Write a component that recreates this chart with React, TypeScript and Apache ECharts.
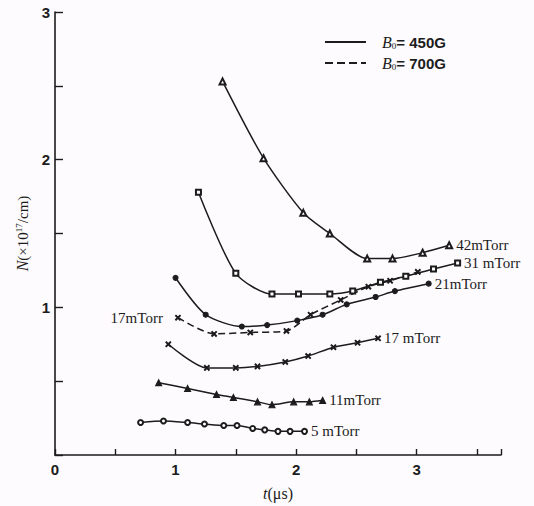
import React, { useEffect, useRef } from "react";
import * as echarts from "echarts";

// 42 mTorr (B0 = 450G)
const t42 = [1.39, 1.73, 2.06, 2.28, 2.59, 2.8, 3.05, 3.27];
const n42 = [2.53, 2.01, 1.64, 1.5, 1.33, 1.33, 1.37, 1.42];
// 31 mTorr
const t31 = [1.19, 1.5, 1.8, 2.02, 2.28, 2.47, 2.7, 2.91, 3.14, 3.34];
const n31 = [1.78, 1.23, 1.09, 1.09, 1.09, 1.11, 1.17, 1.21, 1.26, 1.3];
// 21 mTorr
const t21 = [1.0, 1.25, 1.55, 1.76, 2.01, 2.22, 2.42, 2.66, 2.82, 3.1];
const n21 = [1.2, 0.95, 0.87, 0.88, 0.91, 0.95, 1.02, 1.07, 1.11, 1.16];
// 17 mTorr (B0 = 700G, dashed)
const t17d = [1.02, 1.32, 1.62, 1.92, 2.12, 2.37, 2.6, 2.78, 3.01];
const n17d = [0.93, 0.82, 0.83, 0.84, 0.95, 1.05, 1.14, 1.18, 1.24];
// 17 mTorr (B0 = 450G)
const t17 = [0.94, 1.26, 1.5, 1.68, 1.91, 2.1, 2.31, 2.51, 2.68];
const n17 = [0.75, 0.59, 0.59, 0.6, 0.63, 0.67, 0.73, 0.76, 0.79];
// 11 mTorr
const t11 = [0.86, 1.1, 1.34, 1.48, 1.68, 1.8, 1.98, 2.11, 2.22];
const n11 = [0.49, 0.45, 0.41, 0.39, 0.36, 0.34, 0.36, 0.36, 0.37];
// 5 mTorr
const t5 = [0.71, 0.9, 1.1, 1.24, 1.4, 1.51, 1.64, 1.74, 1.85, 1.95, 2.07];
const n5 = [0.22, 0.23, 0.22, 0.21, 0.2, 0.2, 0.18, 0.17, 0.16, 0.16, 0.16];

const seriesLabels = ["42mTorr", "31 mTorr", "21mTorr", "17mTorr", "17 mTorr", "11mTorr", "5 mTorr"];

const INK = "#1c1c1c";
const SERIF = "'Liberation Serif', 'DejaVu Serif', serif";
const SANS = "'Liberation Sans', Arial, sans-serif";
const X_SYMBOL = "path://M0,1.2L1.2,0L5,3.8L8.8,0L10,1.2L6.2,5L10,8.8L8.8,10L5,6.2L1.2,10L0,8.8L3.8,5Z";

function build(ts: number[], ns: number[], label: string, labelAtStart: boolean) {
  return ts.map((t, i) => {
    const isLabel = labelAtStart ? i === 0 : i === ts.length - 1;
    const item: any = { value: [t, ns[i]] };
    if (isLabel) {
      item.label = {
        show: true,
        position: labelAtStart ? "left" : "right",
        distance: labelAtStart ? 12 : 3,
        formatter: label,
        color: INK,
        fontFamily: SERIF,
        fontSize: 15,
      };
    }
    return item;
  });
}

export default function App() {
  const ref = useRef<HTMLDivElement>(null);
  useEffect(() => {
    if (!ref.current) return;
    const chart = echarts.init(ref.current, null, { renderer: "svg" });
    const mk = (name: string, ts: number[], ns: number[], symbol: string, size: number, dashed: boolean, label: string, atStart = false) => ({
      name,
      type: "line",
      smooth: 0.25,
      data: build(ts, ns, label, atStart),
      symbol,
      symbolSize: size,
      showAllSymbol: true,
      lineStyle: { color: INK, width: 1.5, type: dashed ? [7, 4] : "solid" },
      itemStyle: { color: INK, borderColor: INK, borderWidth: 1.1 },
      emphasis: { disabled: true },
      z: 3,
    });
    chart.setOption({
      animation: false,
      backgroundColor: "#fdfbfd",
      grid: { left: 55, right: 33, top: 12, bottom: 50, containLabel: false },
      xAxis: {
        type: "value",
        min: 0,
        max: 3.7,
        interval: 0.5,
        name: "{i|t}(μs)",
        nameLocation: "middle",
        nameGap: 30,
        nameTextStyle: {
          color: INK,
          fontFamily: SERIF,
          fontSize: 16,
          rich: {
            i: { fontStyle: "italic", fontFamily: SERIF, fontSize: 16, color: INK },
          },
        },
        axisLine: { show: true, onZero: false, lineStyle: { color: INK, width: 1.6 } },
        axisTick: { show: true, inside: true, length: 6, lineStyle: { color: INK, width: 1.4 } },
        axisLabel: {
          color: INK,
          fontFamily: SANS,
          fontWeight: "bold",
          fontSize: 15,
          margin: 7,
          formatter: (v: number) => (Number.isInteger(v) ? String(v) : ""),
        },
        splitLine: { show: false },
      },
      yAxis: {
        type: "value",
        min: 0,
        max: 3,
        interval: 0.5,
        name: "{i|N}(×10{sup|17}/cm)",
        nameLocation: "middle",
        nameGap: 18,
        nameTextStyle: {
          color: INK,
          fontFamily: SERIF,
          fontSize: 15,
          rich: {
            i: { fontStyle: "italic", fontFamily: SERIF, fontSize: 16, color: INK },
            sup: { fontSize: 9, verticalAlign: "top", fontFamily: SERIF, color: INK, padding: [0, 0, 6, 0] },
          },
        },
        axisLine: { show: true, onZero: false, lineStyle: { color: INK, width: 1.6 } },
        axisTick: { show: true, inside: true, length: 8, lineStyle: { color: INK, width: 1.4 } },
        axisLabel: {
          color: INK,
          fontFamily: SANS,
          fontWeight: "bold",
          fontSize: 15,
          margin: 5,
          formatter: (v: number) => (Number.isInteger(v) && v !== 0 ? String(v) : ""),
        },
        splitLine: { show: false },
      },
      series: [
        mk("42", t42, n42, "emptyTriangle", 6, false, seriesLabels[0]),
        mk("31", t31, n31, "emptyRect", 5, false, seriesLabels[1]),
        mk("21", t21, n21, "circle", 5, false, seriesLabels[2]),
        mk("17d", t17d, n17d, X_SYMBOL, 5, true, seriesLabels[3], true),
        mk("17", t17, n17, X_SYMBOL, 5, false, seriesLabels[4]),
        mk("11", t11, n11, "triangle", 6, false, seriesLabels[5]),
        mk("5", t5, n5, "emptyCircle", 5, false, seriesLabels[6]),
      ],
      graphic: [
        { type: "line", shape: { x1: 325, y1: 42, x2: 366, y2: 42 }, style: { stroke: INK, lineWidth: 1.8 } },
        { type: "line", shape: { x1: 325, y1: 63, x2: 366, y2: 63 }, style: { stroke: INK, lineWidth: 1.8, lineDash: [8, 4] } },
        {
          type: "text",
          x: 382,
          y: 42,
          style: {
            text: "{b|B}{s|0}= 450G",
            verticalAlign: "middle",
            fill: INK,
            font: `bold 15px ${SANS}`,
            rich: {
              b: { fontStyle: "italic", fontSize: 16, fontFamily: SERIF, fill: INK },
              s: { fontSize: 9, verticalAlign: "bottom", fontFamily: SERIF, fill: INK },
            },
          },
        },
        {
          type: "text",
          x: 382,
          y: 63,
          style: {
            text: "{b|B}{s|0}= 700G",
            verticalAlign: "middle",
            fill: INK,
            font: `bold 15px ${SANS}`,
            rich: {
              b: { fontStyle: "italic", fontSize: 16, fontFamily: SERIF, fill: INK },
              s: { fontSize: 9, verticalAlign: "bottom", fontFamily: SERIF, fill: INK },
            },
          },
        },
      ],
    });
    return () => chart.dispose();
  }, []);
  return <div ref={ref} style={{ width: 534, height: 506, position: "absolute", left: 0, top: 0 }} />;
}
